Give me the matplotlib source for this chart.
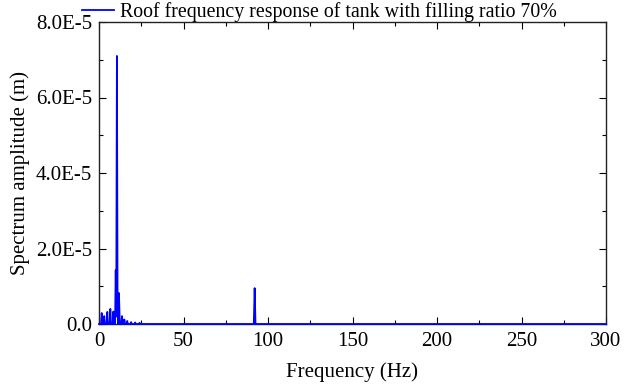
import matplotlib.pyplot as plt
from matplotlib.ticker import MultipleLocator, FuncFormatter

# spectrum peaks (Hz, m); the line returns to the floor between peaks
freq = [0.0, 1.2, 1.6, 2.0, 2.7, 3.1, 3.5, 4.5, 4.9, 5.3, 6.3, 6.7, 7.1,
        8.1, 8.5, 8.9, 9.5, 9.9, 10.2, 10.6, 11.0, 11.4, 11.8, 12.3,
        13.2, 13.6, 14.0, 14.6, 15.0, 15.4, 16.3, 16.7, 17.1, 18.6, 19.0,
        19.4, 21.0, 21.4, 21.8, 23.5, 24.0, 24.5, 28.0, 91.6, 92.1,
        92.6, 120.0, 200.0, 300.0]
amp = [0.0, 0.0, 0.29e-5, 0.0, 0.0, 0.21e-5, 0.0, 0.0, 0.32e-5, 0.0, 0.0,
       0.40e-5, 0.0, 0.0, 0.33e-5, 0.0, 0.0, 1.43e-5, 0.2e-5, 7.10e-5,
       0.3e-5, 0.0, 0.82e-5, 0.0, 0.0, 0.21e-5, 0.0, 0.0, 0.12e-5, 0.0,
       0.0, 0.08e-5, 0.0, 0.0, 0.05e-5, 0.0, 0.0, 0.04e-5, 0.0, 0.0,
       0.03e-5, 0.0, 0.0, 0.0, 0.95e-5, 0.0, 0.0, 0.0, 0.0]
label = "Roof frequency response of tank with filling ratio 70%"

plt.rcParams['font.family'] = ['Liberation Serif', 'DejaVu Serif']

fig = plt.figure(figsize=(6.3, 3.89), dpi=100)
ax = fig.add_axes([99 / 630, 65 / 389, 507 / 630, 302 / 389])

ax.plot(freq, amp, color='#0000ff', lw=1.3, label=label,
        clip_on=False, zorder=3)

ax.set_xlim(0, 300)
ax.set_ylim(0, 8e-5)
ax.xaxis.set_major_locator(MultipleLocator(50))
ax.xaxis.set_minor_locator(MultipleLocator(25))
ax.yaxis.set_major_locator(MultipleLocator(2e-5))
ax.yaxis.set_minor_locator(MultipleLocator(1e-5))
ax.yaxis.set_major_formatter(
    FuncFormatter(lambda v, p: "0.0" if v == 0 else f"{v / 1e-5:.1f}E-5"))

ax.tick_params(which='both', direction='in', top=True, right=True,
               labelsize=15, width=0.8)
ax.tick_params(which='major', length=5)
ax.tick_params(which='minor', length=3)
ax.tick_params(axis='x', pad=6)
ax.tick_params(axis='y', pad=5)
for s in ax.spines.values():
    s.set_linewidth(1.0)
    s.set_color('#222222')

ax.set_xlabel("Frequency (Hz)", fontsize=15, labelpad=8)
ax.set_ylabel("Spectrum amplitude (m)", fontsize=15, labelpad=4)

ax.legend(loc='lower left', bbox_to_anchor=(-0.033, 1.0), frameon=False,
          fontsize=14.3, handlelength=1.6, handletextpad=0.3,
          borderaxespad=0, borderpad=0)

fig.savefig("out.png", dpi=100)
plt.close(fig)
